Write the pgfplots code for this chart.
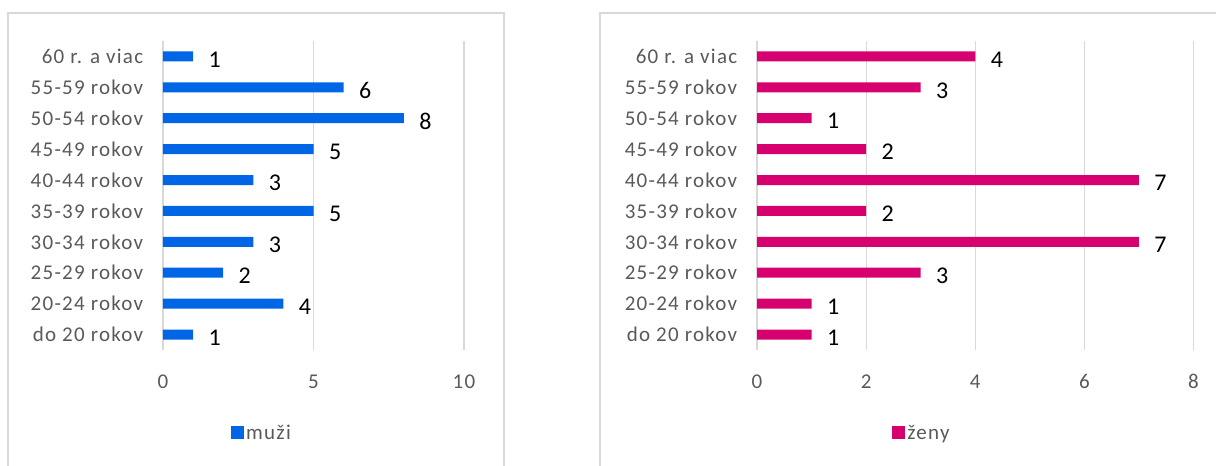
\documentclass[border=0pt]{standalone}
\usepackage{pgfplots}
\pgfplotsset{compat=1.18}
\usepackage{fontspec}
\setmainfont{Carlito}
\newfontfamily\lab[LetterSpace=6]{Carlito}
\definecolor{mblue}{HTML}{0066E6}
\definecolor{fpink}{HTML}{D6006E}
\definecolor{txt}{HTML}{595959}
\definecolor{gridc}{HTML}{D9D9D9}
\pgfplotsset{
 mystyle/.style={
  scale only axis, height=309pt, xbar, bar width=10pt,
  ymin=-0.5, ymax=9.5, ytick={0,...,9},
  yticklabels={do 20 rokov,20-24 rokov,25-29 rokov,30-34 rokov,35-39 rokov,40-44 rokov,45-49 rokov,50-54 rokov,55-59 rokov,60 r. a viac},
  axis line style={draw=none}, tick style={draw=none},
  xmajorgrids, grid style={gridc, line width=1.2pt},
  xmin=0,
  tick label style={font=\lab\fontsize{21}{24}\selectfont, text=txt},
  yticklabel style={xshift=-12pt},
  xticklabel style={yshift=-21pt},
  /pgf/number format/assume math mode=true,
  nodes near coords,
  nodes near coords style={font=\fontsize{24}{26}\selectfont, text=black, anchor=west, xshift=12pt, yshift=-3pt},
  legend style={draw=none, fill=none, font=\lab\fontsize{21}{24}\selectfont, text=txt, anchor=center},
  legend image code/.code={\fill[##1] (0pt,-6pt) rectangle (13pt,7pt);},
 }
}
\begin{document}
\begin{tikzpicture}[x=1pt,y=1pt]
\useasboundingbox (0,0) rectangle (1216,466);
\draw[gridc, line width=1.2pt] (8,-10) -- (8,453) -- (504,453) -- (504,-10);
\draw[gridc, line width=1.2pt] (600,-10) -- (600,453) -- (1230,453);
\begin{axis}[mystyle, at={(163pt,116pt)}, anchor=south west, width=301pt,
  xmax=10, xtick={0,5,10},
  legend style={at={(0.329,-0.269)}}]
\addplot[fill=mblue, draw=none] coordinates {(1,0) (4,1) (2,2) (3,3) (5,4) (3,5) (5,6) (8,7) (6,8) (1,9)};
\addlegendentry{muži}
\end{axis}
\begin{axis}[mystyle, at={(757pt,116pt)}, anchor=south west, width=436.5pt,
  xmax=8, xtick={0,2,4,6,8},
  legend style={at={(0.378,-0.269)}}]
\addplot[fill=fpink, draw=none] coordinates {(1,0) (1,1) (3,2) (7,3) (2,4) (7,5) (2,6) (1,7) (3,8) (4,9)};
\addlegendentry{ženy}
\end{axis}
\end{tikzpicture}
\end{document}
